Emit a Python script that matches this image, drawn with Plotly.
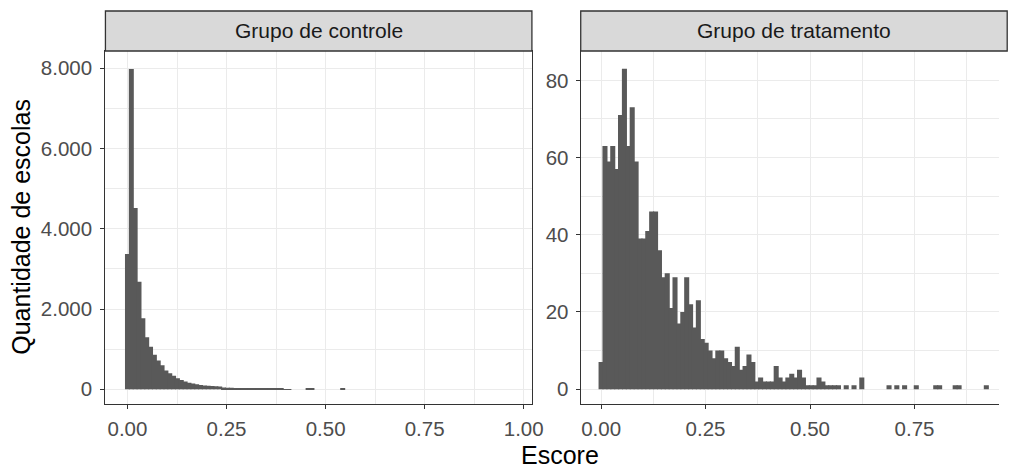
import plotly.graph_objects as go

# ---- data -------------------------------------------------------------
panel_titles = ["Grupo de controle", "Grupo de tratamento"]

# Control group: counts per histogram bin, first bin centred on 0
ctrl_binwidth = 0.0097
ctrl_counts = [
    3370, 7980, 4520, 2680, 1770, 1300, 1060, 860, 720, 600,
    470, 400, 335, 275, 230, 195, 165, 145, 125, 110,
    95, 88, 80, 75, 70, 45, 40, 36, 32, 28,
    25, 22, 20, 18, 16, 14, 12, 11, 10, 9,
    8, 7, 6, 0, 0, 0, 0, 12, 10, 0,
    0, 0, 0, 0, 0, 0, 10,
]

# Treatment group: counts per histogram bin, first bin centred on 0
trat_binwidth = 0.00931
trat_counts = [
    7, 63, 59, 63, 57, 71, 83, 63, 73, 59,
    39, 39, 41, 46, 46, 36, 29, 30, 21, 29,
    17, 20, 29, 22, 16, 23, 13, 12, 10, 8,
    10, 10, 8, 7, 6, 11, 5, 6, 9, 7,
    2, 3, 2, 2, 2, 6, 3, 2, 3, 4,
    3, 5, 3, 1, 1, 1, 3, 2, 1, 1,
    1, 1, 0, 1, 0, 1, 0, 3, 0, 0,
    0, 0, 0, 0, 1, 0, 1, 0, 1, 0,
    0, 1, 0, 0, 0, 0, 1, 1, 0, 0,
    0, 1, 1, 0, 0, 0, 0, 0, 0, 1,
]

x_ticks = [0.0, 0.25, 0.5, 0.75, 1.0]
x_ticktext = ["0.00", "0.25", "0.50", "0.75", "1.00"]
x_minor = [0.125, 0.375, 0.625, 0.875]

ctrl_yticks = [0, 2000, 4000, 6000, 8000]
ctrl_yticktext = ["0", "2.000", "4.000", "6.000", "8.000"]
ctrl_yminor = [1000, 3000, 5000, 7000]

trat_yticks = [0, 20, 40, 60, 80]
trat_yminor = [10, 30, 50, 70]

x_title = "Escore"
y_title = "Quantidade de escolas"

# ---- styling ----------------------------------------------------------
W, H = 1011, 468
FONT = "Liberation Sans, Arial, sans-serif"
BAR = "#595959"
GRID = "#EBEBEB"
BORDER = "#333333"
TICKTXT = "#4D4D4D"

# panel geometry in pixels (the right panel runs past the page edge)
left_x0, left_x1 = 106.7, 538.3
right_x0, right_x1 = 587.7, 1019.3
pan_top, pan_bot = 51.0, 404.0
strip_top = 11.0


def px_x(v):
    return v / W


def px_y(v):
    return 1 - v / H


fig = go.Figure()

# bars are drawn a little wider than the bin so neighbours join without seams
fig.add_trace(go.Bar(
    x=[i * ctrl_binwidth for i in range(len(ctrl_counts))],
    y=ctrl_counts, width=ctrl_binwidth * 1.3,
    marker=dict(color=BAR, line=dict(width=0)),
    xaxis="x", yaxis="y", showlegend=False, hoverinfo="skip",
))
fig.add_trace(go.Bar(
    x=[i * trat_binwidth for i in range(len(trat_counts))],
    y=trat_counts, width=trat_binwidth * 1.3,
    marker=dict(color=BAR, line=dict(width=0)),
    xaxis="x2", yaxis="y2", showlegend=False, hoverinfo="skip",
))

axis_common = dict(
    showgrid=True, gridcolor=GRID, gridwidth=1.3,
    zeroline=False, showline=True, linecolor=BORDER, linewidth=1.3,
    ticks="outside", ticklen=4, tickcolor=BORDER, tickwidth=1.3,
    tickfont=dict(family=FONT, size=20.5, color=TICKTXT),
)

ydom = [px_y(pan_bot), px_y(pan_top)]

# x scale: left panel 0 -> 129 px, 401 px per unit
lx0 = (left_x0 - 129.0) / 401.0
lx1 = (left_x1 - 129.0) / 401.0
# right panel 0 -> 608.3 px, 423 px per unit, visible up to the page edge
rx0 = (right_x0 - 608.3) / 423.0
rx1 = (W - 608.3) / 423.0

fig.update_layout(
    width=W, height=H,
    margin=dict(l=0, r=0, t=0, b=0),
    paper_bgcolor="white", plot_bgcolor="white",
    barmode="overlay",
    xaxis=dict(axis_common, domain=[px_x(left_x0), px_x(left_x1)],
               range=[lx0, lx1], anchor="y", mirror=True, ticklabelstandoff=2,
               tickmode="array", tickvals=x_ticks, ticktext=x_ticktext,
               minor=dict(tickmode="array", tickvals=x_minor, showgrid=True,
                          gridcolor=GRID, gridwidth=0.8)),
    yaxis=dict(axis_common, domain=ydom, range=[-366, 8431], anchor="x",
               mirror=True, ticklabelstandoff=4,
               tickmode="array", tickvals=ctrl_yticks, ticktext=ctrl_yticktext,
               minor=dict(tickmode="array", tickvals=ctrl_yminor, showgrid=True,
                          gridcolor=GRID, gridwidth=0.8)),
    xaxis2=dict(axis_common, domain=[px_x(right_x0), 1.0],
                range=[rx0, rx1], anchor="y2", mirror=True, ticklabelstandoff=2,
                tickmode="array", tickvals=x_ticks[:4], ticktext=x_ticktext[:4],
                minor=dict(tickmode="array", tickvals=x_minor, showgrid=True,
                           gridcolor=GRID, gridwidth=0.8)),
    yaxis2=dict(axis_common, domain=ydom, range=[-3.85, 87.6], anchor="x2",
                ticklabelstandoff=3,
                tickmode="array", tickvals=trat_yticks,
                minor=dict(tickmode="array", tickvals=trat_yminor, showgrid=True,
                           gridcolor=GRID, gridwidth=0.8)),
)

# facet strips
for (x0, x1), title in zip([(left_x0, left_x1), (right_x0, right_x1)], panel_titles):
    fig.add_shape(type="rect", xref="paper", yref="paper",
                  x0=px_x(x0), x1=px_x(x1), y0=px_y(pan_top), y1=px_y(strip_top),
                  fillcolor="#D9D9D9", line=dict(color=BORDER, width=1.3))
    fig.add_annotation(xref="paper", yref="paper",
                       x=px_x((x0 + x1) / 2), y=px_y((strip_top + pan_top) / 2),
                       text=title, showarrow=False,
                       font=dict(family=FONT, size=21, color="#1A1A1A"),
                       xanchor="center", yanchor="middle")

# axis titles, centred over the two panels
fig.add_annotation(xref="paper", yref="paper", x=px_x((left_x0 + right_x1) / 2 + 4),
                   y=px_y(455), text=x_title, showarrow=False,
                   font=dict(family=FONT, size=25, color="black"),
                   xanchor="center", yanchor="middle")
fig.add_annotation(xref="paper", yref="paper", x=px_x(21), y=px_y(227),
                   text=y_title, showarrow=False, textangle=-90,
                   font=dict(family=FONT, size=25, color="black"),
                   xanchor="center", yanchor="middle")

fig.write_html("out.html")
